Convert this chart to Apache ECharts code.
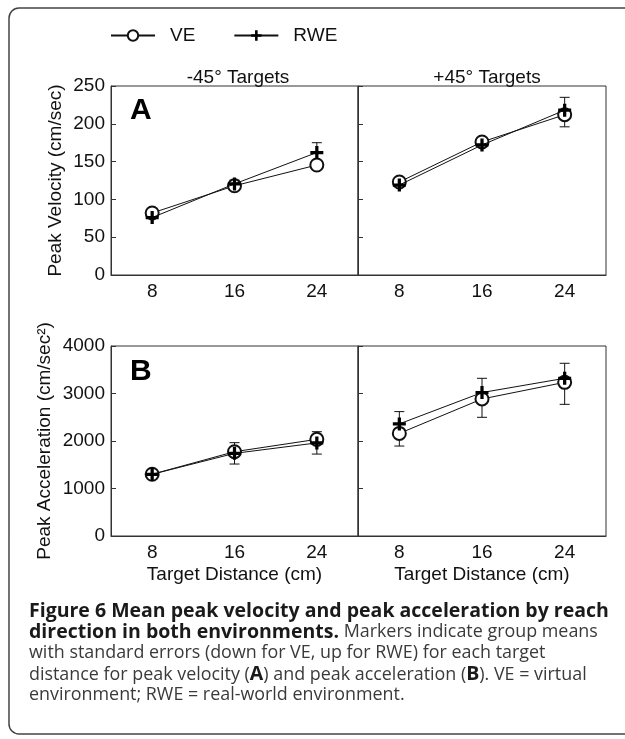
<!DOCTYPE html>
<html><head><meta charset="utf-8">
<script src="https://cdn.jsdelivr.net/npm/echarts@6/dist/echarts.min.js"></script>
<style>html,body{margin:0;padding:0;background:#fff}#c{width:625px;height:739px}</style>
</head><body><div id="c"></div>
<script>
const distances = ['8', '16', '24'];
const panelTitles = ['-45° Targets', '+45° Targets'];
const velTicks = [0, 250, 50];
const accTicks = [0, 4000, 1000];
// Peak velocity (cm/sec)
const velVE_neg = [82, 118, 145.5];
const velRWE_neg = [76, 120.5, 162];
const velVE_pos = [123, 176, 212];
const velRWE_pos = [119, 172, 218];
const velVE_negSE = [4, 5, 6];
const velRWE_negSE = [4, 5, 13];
const velVE_posSE = [5, 6, 16];
const velRWE_posSE = [5, 6, 17];
// Peak acceleration (cm/sec^2)
const accVE_neg = [1300, 1775, 2035];
const accRWE_neg = [1300, 1740, 1960];
const accVE_pos = [2160, 2885, 3235];
const accRWE_pos = [2360, 3020, 3320];
const accVE_negSE = [90, 260, 310];
const accRWE_negSE = [90, 225, 236];
const accVE_posSE = [266, 386, 463];
const accRWE_posSE = [259, 300, 316];

const chart = echarts.init(document.getElementById('c'), null, {renderer: 'canvas'});
const FONT = 'Liberation Sans, Arial, sans-serif';
const plusPath = 'path://M4.5,0H7.5V4.5H12V7.5H7.5V12H4.5V7.5H0V4.5H4.5Z';

const grids = [
  {left: 111, top: 86, width: 247, height: 189},
  {left: 358, top: 86, width: 248, height: 189},
  {left: 111, top: 346, width: 247, height: 190},
  {left: 358, top: 346, width: 248, height: 190}
].map(g => Object.assign(g, {show: true, borderColor: '#333', borderWidth: 1, backgroundColor: 'transparent'}));

function xAxis(i, withName) {
  return {
    type: 'category', gridIndex: i, data: distances, boundaryGap: true,
    axisLine: {lineStyle: {color: '#333', width: 1}},
    axisTick: {alignWithLabel: true, length: 4, lineStyle: {color: '#333'}},
    axisLabel: {color: '#111', fontSize: 19, fontFamily: FONT, margin: 7},
    name: withName ? 'Target Distance (cm)' : '', nameLocation: 'middle', nameGap: 29,
    nameTextStyle: {color: '#111', fontSize: 19, fontFamily: FONT}
  };
}
function yAxis(i, ticks, showLabel, name, gap) {
  return {
    type: 'value', gridIndex: i, min: ticks[0], max: ticks[1], interval: ticks[2],
    axisLine: {show: true, lineStyle: {color: '#333', width: 1}},
    axisTick: {show: true, inside: true, length: 5, lineStyle: {color: '#333'}},
    axisLabel: {show: showLabel, color: '#111', fontSize: 19, fontFamily: FONT, margin: 6, formatter: v => String(v)},
    splitLine: {show: false},
    name: name || '', nameLocation: 'middle', nameGap: gap || 0, nameRotate: 90,
    nameTextStyle: {color: '#111', fontSize: 19, fontFamily: FONT}
  };
}

function errSeries(idx, vals, se, dir) {
  return {
    type: 'custom', xAxisIndex: idx, yAxisIndex: idx, z: 1, silent: true,
    data: vals.map((v, k) => [k, v, se[k]]),
    renderItem: function (params, api) {
      const x = api.value(0), v = api.value(1), e = api.value(2);
      const p0 = api.coord([x, v]);
      const p1 = api.coord([x, v + dir * e]);
      const w = 5;
      return {type: 'group', children: [
        {type: 'line', shape: {x1: p0[0], y1: p0[1], x2: p1[0], y2: p1[1]}, style: {stroke: '#111', lineWidth: 1}},
        {type: 'line', shape: {x1: p1[0] - w, y1: p1[1], x2: p1[0] + w, y2: p1[1]}, style: {stroke: '#111', lineWidth: 1}}
      ]};
    }
  };
}
function veSeries(idx, vals) {
  return {name: 'VE', type: 'line', xAxisIndex: idx, yAxisIndex: idx, data: vals, z: 3,
    symbol: 'emptyCircle', symbolSize: 13, showAllSymbol: true,
    lineStyle: {color: '#111', width: 1}, itemStyle: {color: '#111', borderWidth: 1}};
}
function rweSeries(idx, vals) {
  return {name: 'RWE', type: 'line', xAxisIndex: idx, yAxisIndex: idx, data: vals, z: 4,
    symbol: plusPath, symbolSize: 13, showAllSymbol: true,
    lineStyle: {color: '#111', width: 1}, itemStyle: {color: '#000'}};
}

const capStyle = {fontFamily: 'Open Sans', fontSize: 17.9, fill: '#3a3a3a', lineHeight: 21};
const boldStyle = {fontFamily: 'Open Sans', fontSize: 19.5, fontWeight: 'bold', fill: '#1a1a1a', lineHeight: 21};
const captionLines = [
  '{b|Figure 6 Mean peak velocity and peak acceleration by reach}',
  '{b|direction in both environments.}{n| Markers indicate group means}',
  '{n|with standard errors (down for VE, up for RWE) for each target}',
  '{n|distance for peak velocity (}{b|A}{n|) and peak acceleration (}{b|B}{n|). VE = virtual}',
  '{n|environment; RWE = real-world environment.}'
];

const option = {
  animation: false,
  backgroundColor: '#fff',
  grid: grids,
  legend: {
    data: ['VE', 'RWE'], left: 110, top: 26, padding: 0, itemWidth: 44, itemHeight: 13, itemGap: 38,
    textStyle: {color: '#111', fontSize: 19, fontFamily: FONT, padding: [0, 0, 0, 10]}
  },
  title: [
    {text: panelTitles[0], left: 233, top: 63, textAlign: 'center', textStyle: {fontSize: 19, fontWeight: 'normal', color: '#111', fontFamily: FONT}},
    {text: panelTitles[1], left: 482, top: 63, textAlign: 'center', textStyle: {fontSize: 19, fontWeight: 'normal', color: '#111', fontFamily: FONT}},
    {text: 'A', left: 125, top: 91, textStyle: {fontSize: 30, fontWeight: 'bold', color: '#000', fontFamily: FONT}},
    {text: 'B', left: 125, top: 352, textStyle: {fontSize: 30, fontWeight: 'bold', color: '#000', fontFamily: FONT}}
  ],
  xAxis: [xAxis(0, false), xAxis(1, false), xAxis(2, true), xAxis(3, true)],
  yAxis: [
    yAxis(0, velTicks, true, 'Peak Velocity (cm/sec)', 46),
    yAxis(1, velTicks, false),
    yAxis(2, accTicks, true, 'Peak Acceleration (cm/sec²)', 57),
    yAxis(3, accTicks, false)
  ],
  series: [
    errSeries(0, velVE_neg, velVE_negSE, -1), errSeries(0, velRWE_neg, velRWE_negSE, 1),
    errSeries(1, velVE_pos, velVE_posSE, -1), errSeries(1, velRWE_pos, velRWE_posSE, 1),
    errSeries(2, accVE_neg, accVE_negSE, -1), errSeries(2, accRWE_neg, accRWE_negSE, 1),
    errSeries(3, accVE_pos, accVE_posSE, -1), errSeries(3, accRWE_pos, accRWE_posSE, 1),
    veSeries(0, velVE_neg), rweSeries(0, velRWE_neg),
    veSeries(1, velVE_pos), rweSeries(1, velRWE_pos),
    veSeries(2, accVE_neg), rweSeries(2, accRWE_neg),
    veSeries(3, accVE_pos), rweSeries(3, accRWE_pos)
  ],
  graphic: [
    {type: 'rect', shape: {x: 9, y: 8, width: 640, height: 726, r: 10}, style: {fill: 'none', stroke: '#444', lineWidth: 1.5}, z: 0, silent: true}
  ].concat(captionLines.map((t, k) => ({
    type: 'text', left: 29, top: 601 + k * 21.3, silent: true,
    style: {text: t, rich: {b: boldStyle, n: capStyle}}
  })))
};
chart.setOption(option);
</script>
</body></html>
